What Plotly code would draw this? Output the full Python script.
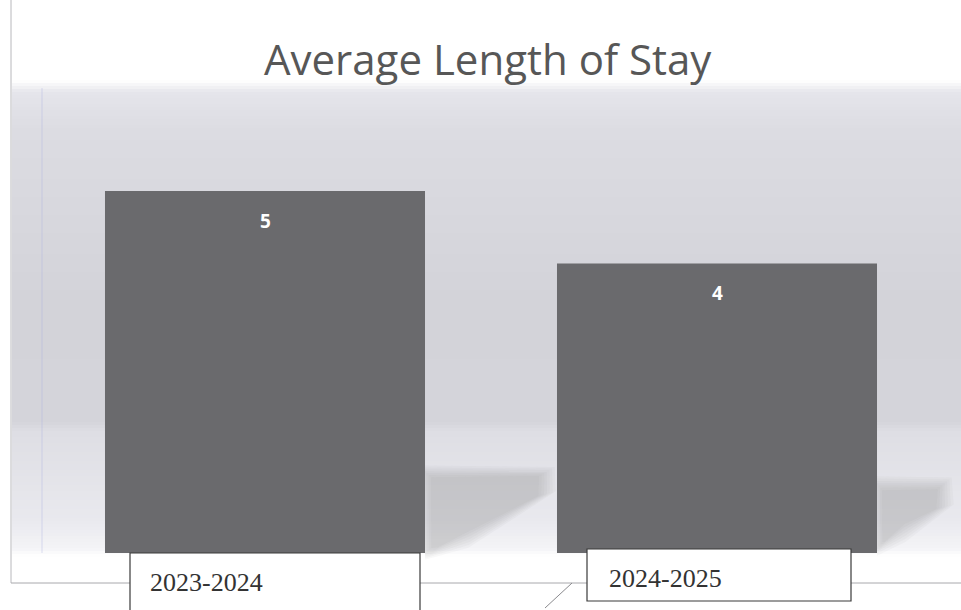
import plotly.graph_objects as go

# Chart data
periods = ["2023-2024", "2024-2025"]
avg_stay = [5, 4]
chart_title = "Average Length of Stay"

W, H = 961, 610
M_L, M_R, M_T, M_B = 39, 18, 85, 57
PLOT_W = W - M_L - M_R
PLOT_H = H - M_T - M_B
Y_MAX = 6.464


def px(x):
    return (x - M_L) / PLOT_W


def py(y):
    return (H - M_B - y) / PLOT_H


fig = go.Figure()
fig.add_trace(go.Bar(
    x=periods,
    y=avg_stay,
    width=0.708,
    marker=dict(color="#6a6a6d", line=dict(width=0)),
    hoverinfo="skip",
))

shapes = []

# soft vertical backdrop gradient (pixel row -> colour)
stops = [(80, (255, 255, 255)), (92, (229, 229, 235)), (130, (220, 220, 226)),
         (300, (211, 211, 217)), (420, (212, 212, 218)), (432, (222, 222, 228)),
         (520, (233, 233, 238)), (548, (244, 244, 247)), (556, (255, 255, 255))]


def col_at(y):
    for (y0, c0), (y1, c1) in zip(stops, stops[1:]):
        if y0 <= y <= y1:
            t = (y - y0) / (y1 - y0)
            return tuple(round(a + (b - a) * t) for a, b in zip(c0, c1))
    return stops[-1][1]


y = 80
while y < 556:
    r, g, b = col_at(y + 1)
    shapes.append(dict(type="rect", xref="paper", yref="paper",
                       x0=px(12), x1=px(W), y0=py(y + 3), y1=py(y),
                       fillcolor=f"rgb({r},{g},{b})", line=dict(width=0),
                       layer="below"))
    y += 3

# faint guide line inside the backdrop
shapes.append(dict(type="line", xref="paper", yref="paper",
                   x0=px(42), x1=px(42), y0=py(88), y1=py(553),
                   line=dict(color="rgba(170,175,225,0.4)", width=1), layer="below"))


def poly(points):
    return "M " + " L ".join(f"{px(a)},{py(b)}" for a, b in points) + " Z"


# soft floor shadows to the right of each bar, built from stacked translucent layers
shadow_sets = [
    [(425, 472), (546, 472), (546, 494), (470, 538), (432, 553), (425, 553)],
    [(877, 484), (944, 484), (944, 507), (905, 532), (880, 548), (877, 548)],
]
for pts in shadow_sets:
    cx = sum(p[0] for p in pts) / len(pts)
    cy = sum(p[1] for p in pts) / len(pts)
    for grow in [10, 7, 4, 1, -2, -5, -8]:
        scaled = []
        for a, b in pts:
            da, db = a - cx, b - cy
            n = max((da * da + db * db) ** 0.5, 1)
            scaled.append((max(a + da / n * grow, pts[0][0]), b + db / n * grow))
        shapes.append(dict(type="path", xref="paper", yref="paper", path=poly(scaled),
                           fillcolor="rgba(105,105,115,0.045)", line=dict(width=0),
                           layer="below"))

# page frame lines
shapes.append(dict(type="line", xref="paper", yref="paper",
                   x0=px(11), x1=px(11), y0=py(0), y1=py(583),
                   line=dict(color="#b8b8bc", width=1)))
shapes.append(dict(type="line", xref="paper", yref="paper",
                   x0=px(11), x1=px(W), y0=py(583), y1=py(583),
                   line=dict(color="#a8a8ac", width=1)))
shapes.append(dict(type="line", xref="paper", yref="paper",
                   x0=px(545), x1=px(572), y0=py(608), y1=py(583),
                   line=dict(color="#8a8a8e", width=1)))

# category label boxes
boxes = [(130, 553, 420, 625), (587, 549, 851, 601)]
for x0, y0, x1, y1 in boxes:
    shapes.append(dict(type="rect", xref="paper", yref="paper",
                       x0=px(x0), x1=px(x1), y0=py(y1), y1=py(y0),
                       fillcolor="white", line=dict(color="#3a3a3a", width=1.2)))

annotations = []
text_pos = [(148, 582), (607, 578)]
for name, (tx, ty) in zip(periods, text_pos):
    annotations.append(dict(text=name, xref="paper", yref="paper",
                            x=px(tx), y=py(ty), xanchor="left", yanchor="middle",
                            showarrow=False,
                            font=dict(family="Liberation Serif", size=26, color="#333333")))

# value labels inside the bars
for name, v in zip(periods, avg_stay):
    annotations.append(dict(text=f"<b>{v}</b>", x=name, y=v, xref="x", yref="y",
                            yshift=-30, yanchor="middle", showarrow=False,
                            font=dict(family="Open Sans", size=19, color="white")))

annotations.append(dict(text=chart_title, xref="paper", yref="paper",
                        x=px(488), y=py(59), xanchor="center", yanchor="middle",
                        showarrow=False,
                        font=dict(family="Open Sans", size=42, color="#575757")))

fig.update_layout(
    width=W, height=H,
    margin=dict(l=M_L, r=M_R, t=M_T, b=M_B),
    paper_bgcolor="white",
    plot_bgcolor="rgba(0,0,0,0)",
    showlegend=False,
    shapes=shapes,
    annotations=annotations,
    xaxis=dict(range=[-0.5, 1.5], showticklabels=False, showgrid=False,
               zeroline=False, showline=False, ticks=""),
    yaxis=dict(range=[0, Y_MAX], showticklabels=False, showgrid=False,
               zeroline=False, showline=False, ticks=""),
)

fig.write_html("out.html")
